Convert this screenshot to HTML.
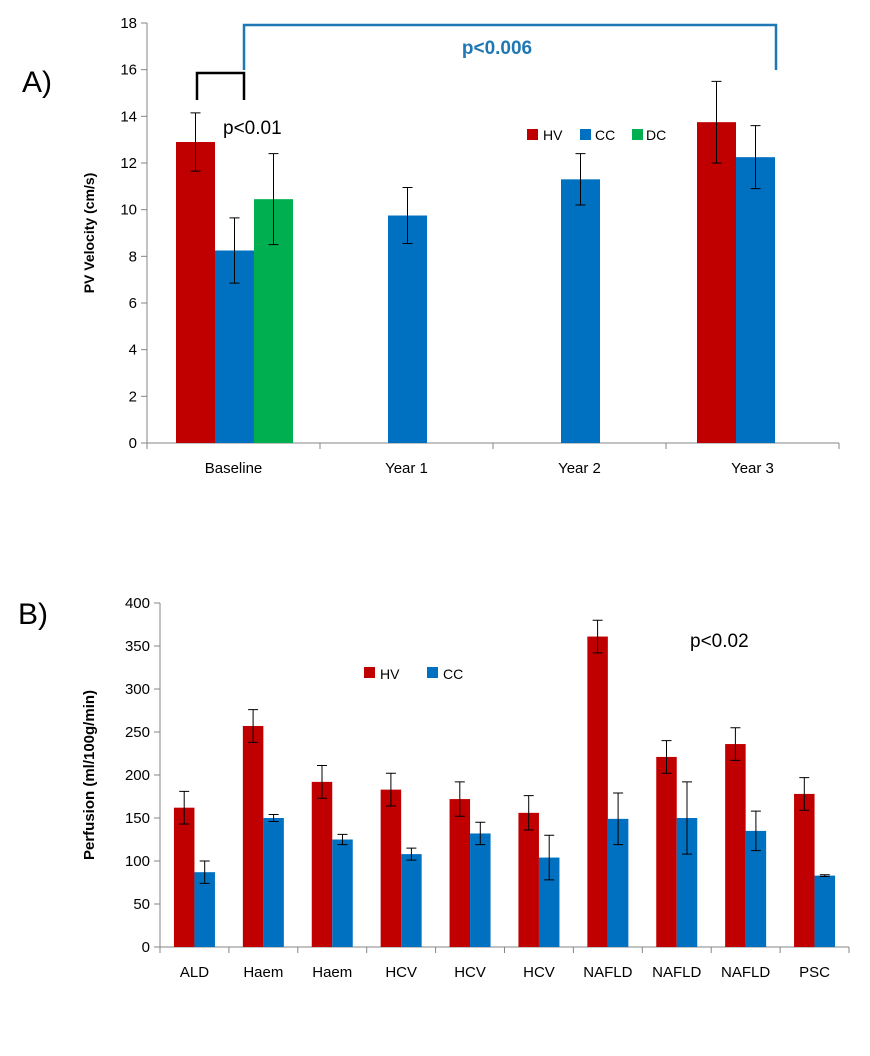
<!DOCTYPE html>
<html><head><meta charset="utf-8"><style>body{margin:0;background:#fff}svg{font-family:"Liberation Sans",sans-serif}</style></head>
<body>
<svg id="s" width="870" height="1051" viewBox="0 0 870 1051">
<text x="22" y="92" font-size="30">A)</text>
<text x="18" y="624" font-size="30">B)</text>
<path d="M197 100V73H244V100" fill="none" stroke="#000" stroke-width="2.5"/>
<path d="M244 70V25H776V70" fill="none" stroke="#1f77b4" stroke-width="2.5"/>
<text x="497" y="54" font-size="19" font-weight="bold" fill="#1f77b4" text-anchor="middle">p&lt;0.006</text>
<text x="223" y="134" font-size="19">p&lt;0.01</text>
<text x="690" y="647" font-size="19">p&lt;0.02</text>
<text transform="translate(94,233) rotate(-90)" font-size="14" font-weight="bold" text-anchor="middle">PV Velocity (cm/s)</text>
<text transform="translate(94,775) rotate(-90)" font-size="15" font-weight="bold" text-anchor="middle">Perfusion (ml/100g/min)</text>
<g id="ga"></g><g id="gb"></g>
</svg>
<script>
const catsA=["Baseline","Year 1","Year 2","Year 3"];
const seriesA=["HV","CC","DC"];
const hvA=[12.9,null,null,13.75];
const ccA=[8.25,9.75,11.3,12.25];
const dcA=[10.45,null,null,null];
const hvErrA=[1.25,0,0,1.75];
const ccErrA=[1.4,1.2,1.1,1.35];
const dcErrA=[1.95,0,0,0];
const ticksA=[0,2,4,6,8,10,12,14,16,18];
const catsB=["ALD","Haem","Haem","HCV","HCV","HCV","NAFLD","NAFLD","NAFLD","PSC"];
const hvB=[162,257,192,183,172,156,361,221,236,178];
const ccB=[87,150,125,108,132,104,149,150,135,83];
const hvErrB=[19,19,19,19,20,20,19,19,19,19];
const ccErrB=[13,4,6,7,13,26,30,42,23,1];
const ticksB=[0,50,100,150,200,250,300,350,400];
const colors=["#c00000","#0070c0","#00b050"];
const NS="http://www.w3.org/2000/svg";
function el(p,t,a){const e=document.createElementNS(NS,t);for(const k in a)e.setAttribute(k,a[k]);p.appendChild(e);return e;}
function axes(g,x0,x1,y0,y1,ticks,max,cats,fs,name){
 const y=v=>y0-(y0-y1)*v/max;
 let e=el(g,'line',{x1:x0,x2:x0,y1:y0,y2:y1,stroke:'#868686'});
 
 e=el(g,'line',{x1:x0,x2:x1,y1:y0,y2:y0,stroke:'#868686'});
 
 ticks.forEach(t=>{el(g,'line',{x1:x0-6,x2:x0,y1:y(t),y2:y(t),stroke:'#868686'});
  const tx=el(g,'text',{x:x0-10,y:y(t)+5,'font-size':fs,'text-anchor':'end'});tx.textContent=t;
  });
 const w=(x1-x0)/cats.length;
 for(let i=0;i<=cats.length;i++)el(g,'line',{x1:x0+i*w,x2:x0+i*w,y1:y0,y2:y0+6,stroke:'#868686'});
 cats.forEach((c,i)=>{const tx=el(g,'text',{x:x0+(i+.5)*w,y:y0+30,'font-size':fs,'text-anchor':'middle'});tx.textContent=c;
  });
 return {y,w};
}
function bar(g,x,bw,val,err,col,yf,name){
 if(val==null)return;
 const r=el(g,'rect',{x:x,y:yf(val),width:bw,height:yf(0)-yf(val),fill:col});
 
 if(err>0){const cx=x+bw/2;
  el(g,'path',{d:`M${cx} ${yf(val+err)}V${yf(val-err)}M${cx-5} ${yf(val+err)}h10M${cx-5} ${yf(val-err)}h10`,stroke:'#000',fill:'none'});}
}
const ga=document.getElementById('ga');
const xa0=147;
const A=axes(ga,xa0,839,443,23,ticksA,18,catsA,15,'chart-a');
const bwA=39;
[hvA,ccA,dcA].forEach((s,j)=>{const errs=[hvErrA,ccErrA,dcErrA][j];
 s.forEach((v,i)=>{const cx=xa0+(i+.5)*A.w;bar(ga,cx-bwA*1.5+j*bwA+(i==3?3:1),bwA,v,errs[i],colors[j],A.y,'bar-'+seriesA[j].toLowerCase()+'-'+i);});});
const legA=[[527,543],[580,595],[632,646]];
seriesA.forEach((s,j)=>{let r=el(ga,'rect',{x:legA[j][0],y:129,width:11,height:11,fill:colors[j]});
 
 const t=el(ga,'text',{x:legA[j][1],y:140,'font-size':14});t.textContent=s;
 });
const gb=document.getElementById('gb');
const xb0=160;
const B=axes(gb,xb0,849,947,603,ticksB,400,catsB,15,'chart-b');
const bwB=20.5;
catsB.forEach((c,i)=>{const cx=xb0+(i+.5)*B.w;
 bar(gb,cx-bwB,bwB,hvB[i],hvErrB[i],colors[0],B.y,'bar-hv-'+i);
 bar(gb,cx,bwB,ccB[i],ccErrB[i],colors[1],B.y,'bar-cc-'+i);});
const legB=[[364,380],[427,443]];
["HV","CC"].forEach((s,j)=>{let r=el(gb,'rect',{x:legB[j][0],y:667,width:11,height:11,fill:colors[j]});
 
 const t=el(gb,'text',{x:legB[j][1],y:679,'font-size':14});t.textContent=s;
 });
</script>
</body></html>
